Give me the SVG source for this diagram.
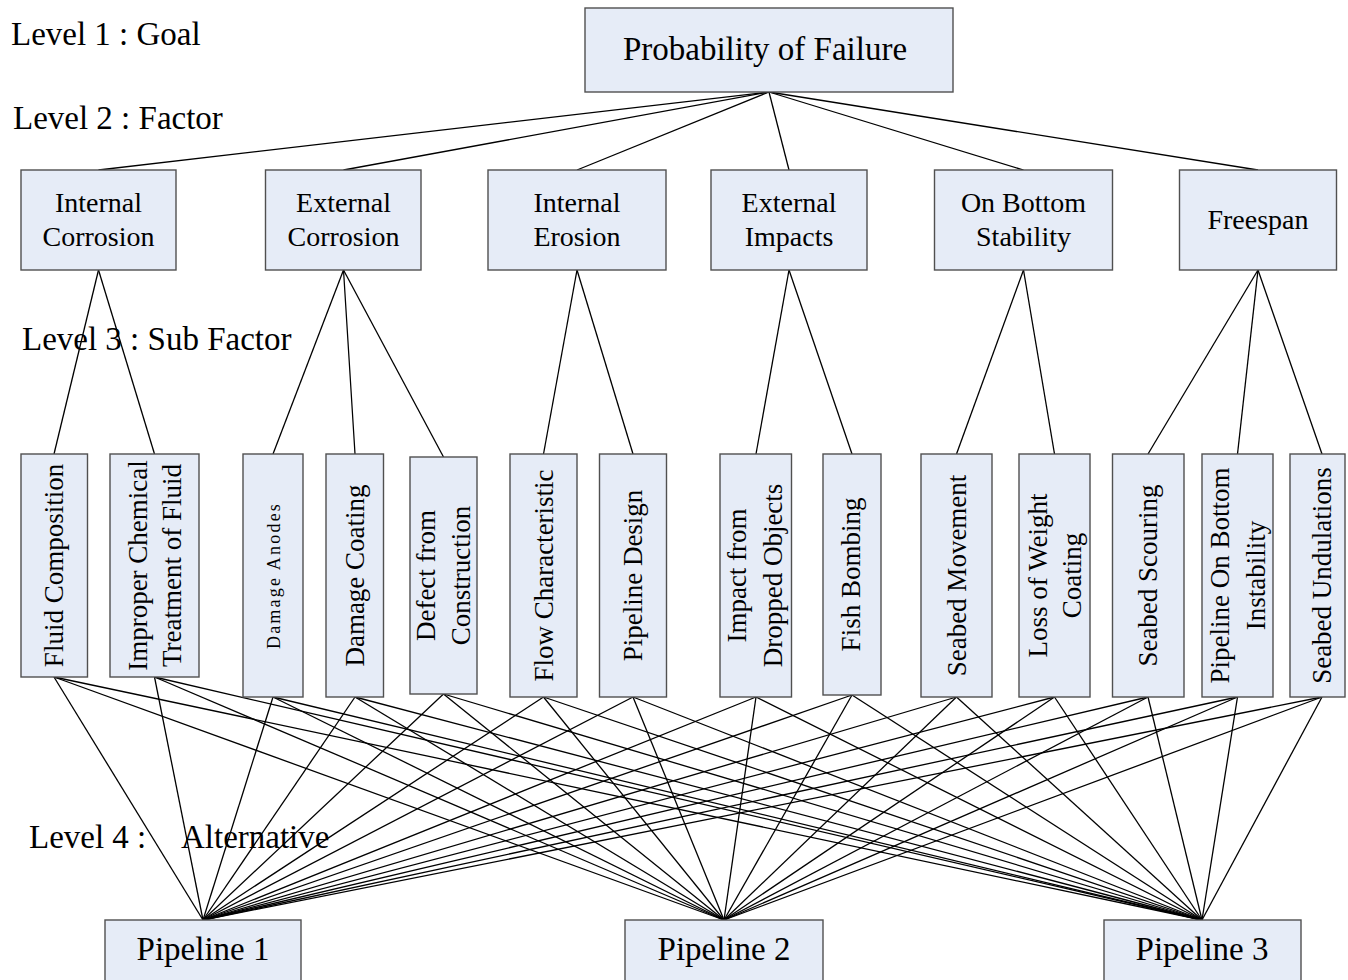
<svg xmlns="http://www.w3.org/2000/svg" width="1348" height="980" viewBox="0 0 1348 980">
<style>
  .box { fill: #E6ECF7; stroke: #505050; stroke-width: 1.4; }
  .t { font-family: "Liberation Serif", "Times New Roman", serif; fill: #000; }
  .lbl { font-size: 33px; }
  .l2 { font-size: 28px; text-anchor: middle; }
  .top { font-size: 33px; text-anchor: middle; }
  .l3 { font-size: 27px; text-anchor: middle; }
  .l4 { font-size: 33px; text-anchor: middle; }
  .conn line { stroke: #000; stroke-width: 1.3; }
</style>
<rect width="1348" height="980" fill="#ffffff"/>

<g id="labels">
  <text class="t lbl" x="11" y="45">Level 1 : Goal</text>
  <text class="t lbl" x="13" y="129">Level 2 : Factor</text>
  <text class="t lbl" x="22" y="350">Level 3 : Sub Factor</text>
  <text class="t lbl" y="848"><tspan x="29">Level 4 :</tspan><tspan x="181">Alternative</tspan></text>
</g>

<g id="connectors" class="conn">
  <!-- Level 1 to Level 2 -->
  <line x1="769" y1="92" x2="98.5" y2="170"/>
  <line x1="769" y1="92" x2="343.5" y2="170"/>
  <line x1="769" y1="92" x2="577" y2="170"/>
  <line x1="769" y1="92" x2="789" y2="170"/>
  <line x1="769" y1="92" x2="1023.5" y2="170"/>
  <line x1="769" y1="92" x2="1258" y2="170"/>
  <!-- Level 2 to Level 3 -->
  <line x1="98.5" y1="270" x2="54" y2="454"/>
  <line x1="98.5" y1="270" x2="154.5" y2="454"/>
  <line x1="343.5" y1="270" x2="273" y2="454"/>
  <line x1="343.5" y1="270" x2="355" y2="454"/>
  <line x1="343.5" y1="270" x2="443.5" y2="457"/>
  <line x1="577" y1="270" x2="543.5" y2="454"/>
  <line x1="577" y1="270" x2="633" y2="454"/>
  <line x1="789" y1="270" x2="756" y2="454"/>
  <line x1="789" y1="270" x2="852" y2="454"/>
  <line x1="1023.5" y1="270" x2="956.5" y2="454"/>
  <line x1="1023.5" y1="270" x2="1054.5" y2="454"/>
  <line x1="1258" y1="270" x2="1148" y2="454"/>
  <line x1="1258" y1="270" x2="1237.5" y2="454"/>
  <line x1="1258" y1="270" x2="1322" y2="454"/>
  <!-- Level 3 to Level 4 -->
  <line x1="54" y1="677" x2="203" y2="920"/><line x1="54" y1="677" x2="724" y2="920"/><line x1="54" y1="677" x2="1202" y2="920"/>
  <line x1="154.5" y1="677" x2="203" y2="920"/><line x1="154.5" y1="677" x2="724" y2="920"/><line x1="154.5" y1="677" x2="1202" y2="920"/>
  <line x1="273" y1="697" x2="203" y2="920"/><line x1="273" y1="697" x2="724" y2="920"/><line x1="273" y1="697" x2="1202" y2="920"/>
  <line x1="355" y1="697" x2="203" y2="920"/><line x1="355" y1="697" x2="724" y2="920"/><line x1="355" y1="697" x2="1202" y2="920"/>
  <line x1="443.5" y1="694" x2="203" y2="920"/><line x1="443.5" y1="694" x2="724" y2="920"/><line x1="443.5" y1="694" x2="1202" y2="920"/>
  <line x1="543.5" y1="697" x2="203" y2="920"/><line x1="543.5" y1="697" x2="724" y2="920"/><line x1="543.5" y1="697" x2="1202" y2="920"/>
  <line x1="633" y1="697" x2="203" y2="920"/><line x1="633" y1="697" x2="724" y2="920"/><line x1="633" y1="697" x2="1202" y2="920"/>
  <line x1="756" y1="697" x2="203" y2="920"/><line x1="756" y1="697" x2="724" y2="920"/><line x1="756" y1="697" x2="1202" y2="920"/>
  <line x1="852" y1="695" x2="203" y2="920"/><line x1="852" y1="695" x2="724" y2="920"/><line x1="852" y1="695" x2="1202" y2="920"/>
  <line x1="956.5" y1="697" x2="203" y2="920"/><line x1="956.5" y1="697" x2="724" y2="920"/><line x1="956.5" y1="697" x2="1202" y2="920"/>
  <line x1="1054.5" y1="697" x2="203" y2="920"/><line x1="1054.5" y1="697" x2="724" y2="920"/><line x1="1054.5" y1="697" x2="1202" y2="920"/>
  <line x1="1148" y1="697" x2="203" y2="920"/><line x1="1148" y1="697" x2="724" y2="920"/><line x1="1148" y1="697" x2="1202" y2="920"/>
  <line x1="1237.5" y1="697" x2="203" y2="920"/><line x1="1237.5" y1="697" x2="724" y2="920"/><line x1="1237.5" y1="697" x2="1202" y2="920"/>
  <line x1="1322" y1="697" x2="203" y2="920"/><line x1="1322" y1="697" x2="724" y2="920"/><line x1="1322" y1="697" x2="1202" y2="920"/>
</g>

<!-- Level 1 -->
<g id="goal">
  <rect class="box" x="585" y="8" width="368" height="84"/>
  <text class="t top" x="765" y="60">Probability of Failure</text>
</g>

<!-- Level 2 -->
<g id="internal-corrosion">
  <rect class="box" x="21" y="170" width="155" height="100"/>
  <text class="t l2" x="98.5" y="212">Internal</text>
  <text class="t l2" x="98.5" y="246">Corrosion</text>
</g>
<g id="external-corrosion">
  <rect class="box" x="265.5" y="170" width="155.5" height="100"/>
  <text class="t l2" x="343.5" y="212">External</text>
  <text class="t l2" x="343.5" y="246">Corrosion</text>
</g>
<g id="internal-erosion">
  <rect class="box" x="488" y="170" width="178" height="100"/>
  <text class="t l2" x="577" y="212">Internal</text>
  <text class="t l2" x="577" y="246">Erosion</text>
</g>
<g id="external-impacts">
  <rect class="box" x="711" y="170" width="156" height="100"/>
  <text class="t l2" x="789" y="212">External</text>
  <text class="t l2" x="789" y="246">Impacts</text>
</g>
<g id="on-bottom-stability">
  <rect class="box" x="934.5" y="170" width="178" height="100"/>
  <text class="t l2" x="1023.5" y="212">On Bottom</text>
  <text class="t l2" x="1023.5" y="246">Stability</text>
</g>
<g id="freespan">
  <rect class="box" x="1179.5" y="170" width="157" height="100"/>
  <text class="t l2" x="1258" y="229">Freespan</text>
</g>

<!-- Level 3 -->
<g id="fluid-composition">
  <rect class="box" x="21" y="454" width="66.5" height="223"/>
  <text class="t l3" transform="translate(54,565.5) rotate(-90)" x="0" y="9">Fluid Composition</text>
</g>
<g id="improper-chemical">
  <rect class="box" x="110" y="454" width="89" height="223"/>
  <text class="t l3" transform="translate(154.5,565.5) rotate(-90)" x="0" y="-8">Improper Chemical</text>
  <text class="t l3" transform="translate(154.5,565.5) rotate(-90)" x="0" y="26">Treatment of Fluid</text>
</g>
<g id="damage-anodes">
  <rect class="box" x="243" y="454" width="60" height="243"/>
  <text class="t l3" style="font-size:18px;letter-spacing:2.2px" transform="translate(274,575.5) rotate(-90)" x="0" y="6">Damage Anodes</text>
</g>
<g id="damage-coating">
  <rect class="box" x="326" y="454" width="57.5" height="243"/>
  <text class="t l3" transform="translate(355,575.5) rotate(-90)" x="0" y="9">Damage Coating</text>
</g>
<g id="defect-construction">
  <rect class="box" x="410" y="457" width="67" height="237"/>
  <text class="t l3" transform="translate(443.5,575.5) rotate(-90)" x="0" y="-9">Defect from</text>
  <text class="t l3" transform="translate(443.5,575.5) rotate(-90)" x="0" y="26">Construction</text>
</g>
<g id="flow-characteristic">
  <rect class="box" x="510" y="454" width="67" height="243"/>
  <text class="t l3" transform="translate(543.5,575.5) rotate(-90)" x="0" y="9">Flow Characteristic</text>
</g>
<g id="pipeline-design">
  <rect class="box" x="599.5" y="454" width="67" height="243"/>
  <text class="t l3" transform="translate(633,575.5) rotate(-90)" x="0" y="9">Pipeline Design</text>
</g>
<g id="impact-dropped-objects">
  <rect class="box" x="720" y="454" width="71.5" height="243"/>
  <text class="t l3" transform="translate(756,575.5) rotate(-90)" x="0" y="-10">Impact from</text>
  <text class="t l3" transform="translate(756,575.5) rotate(-90)" x="0" y="26">Dropped Objects</text>
</g>
<g id="fish-bombing">
  <rect class="box" x="823" y="454" width="58" height="241"/>
  <text class="t l3" transform="translate(852,574.5) rotate(-90)" x="0" y="8">Fish Bombing</text>
</g>
<g id="seabed-movement">
  <rect class="box" x="921" y="454" width="71" height="243"/>
  <text class="t l3" transform="translate(956.5,575.5) rotate(-90)" x="0" y="9">Seabed Movement</text>
</g>
<g id="loss-weight-coating">
  <rect class="box" x="1019" y="454" width="71" height="243"/>
  <text class="t l3" transform="translate(1054.5,575.5) rotate(-90)" x="0" y="-8">Loss of Weight</text>
  <text class="t l3" transform="translate(1054.5,575.5) rotate(-90)" x="0" y="26">Coating</text>
</g>
<g id="seabed-scouring">
  <rect class="box" x="1112.5" y="454" width="71.5" height="243"/>
  <text class="t l3" transform="translate(1148,575.5) rotate(-90)" x="0" y="9">Seabed Scouring</text>
</g>
<g id="pipeline-on-bottom-instability">
  <rect class="box" x="1202" y="454" width="71" height="243"/>
  <text class="t l3" transform="translate(1237.5,575.5) rotate(-90)" x="0" y="-9">Pipeline On Bottom</text>
  <text class="t l3" transform="translate(1237.5,575.5) rotate(-90)" x="0" y="27">Instability</text>
</g>
<g id="seabed-undulations">
  <rect class="box" x="1290" y="454" width="55" height="243"/>
  <text class="t l3" transform="translate(1322,575.5) rotate(-90)" x="0" y="9">Seabed Undulations</text>
</g>

<!-- Level 4 -->
<g id="pipeline-1">
  <rect class="box" x="105" y="920" width="196" height="70"/>
  <text class="t l4" x="203" y="960">Pipeline 1</text>
</g>
<g id="pipeline-2">
  <rect class="box" x="625" y="920" width="198" height="70"/>
  <text class="t l4" x="724" y="960">Pipeline 2</text>
</g>
<g id="pipeline-3">
  <rect class="box" x="1104" y="920" width="197" height="70"/>
  <text class="t l4" x="1202" y="960">Pipeline 3</text>
</g>
</svg>
